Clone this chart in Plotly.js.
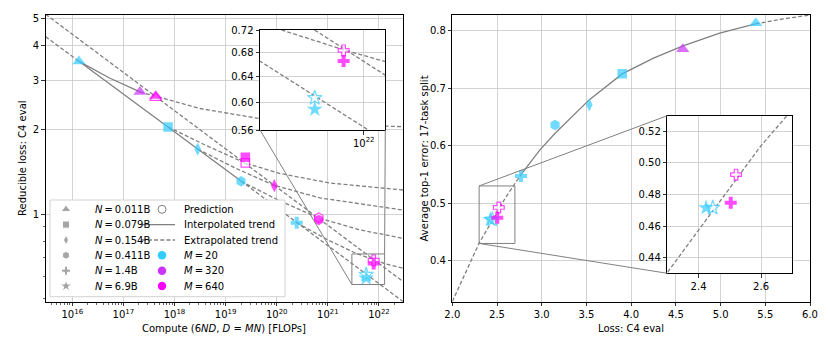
<!DOCTYPE html>
<html><head><meta charset="utf-8">
<script src="https://cdn.plot.ly/plotly-3.0.1.min.js"></script>
<style>html,body{margin:0;padding:0;background:#fff;}#chart{width:830px;height:346px;}</style>
</head><body><div id="chart"></div>
<script>
// ================= DATA =================
// ---- left panel: reducible loss vs compute ----
const nLabels = ['0.011B', '0.079B', '0.154B', '0.411B', '1.4B', '6.9B'];
const mLabels = ['20', '320', '640'];
const computeTickExp = [16, 17, 18, 19, 20, 21, 22];
const lossTicks = [1, 2, 3, 4, 5];
const lossMinorTicks = [0.5, 0.6, 0.7, 0.8, 0.9];
const insetLossTicks = [0.56, 0.60, 0.64, 0.68, 0.72];
const insetComputeTicks = [1e22];

// observed runs (filled markers)
const m20Compute = [1.35e16, 7.48e17, 2.84e18, 2.0e19, 2.46e20, 5.62e21];
const m20Loss    = [3.51, 2.046, 1.705, 1.309, 0.931, 0.590];
const m20N       = [0, 1, 2, 3, 4, 5];
const m320Compute = [2.11e17];
const m320Loss    = [2.73];
const m320N       = [0];
const m640Compute = [4.29e17, 2.43e19, 8.97e19, 6.64e20, 7.89e21];
const m640Loss    = [2.64, 1.594, 1.262, 0.952, 0.666];
const m640N       = [0, 1, 2, 3, 4];
// predictions (open markers)
const predCompute = [4.29e17, 2.43e19, 6.64e20, 7.89e21, 5.62e21];
const predLoss    = [2.60, 1.522, 0.970, 0.684, 0.607];
const predN       = [0, 1, 3, 4, 5];
const predM       = [2, 2, 2, 2, 0];

// trends
const m20TrendCompute  = [3.0e15, 1.35e16, 2.0e19, 2.95e22];
const m20TrendLoss     = [4.30, 3.51, 1.312, 0.487];
const m640TrendCompute = [3.0e15, 2.95e22];
const m640TrendLoss    = [5.17, 0.574];
const n011Compute = [1.35e16, 5.35e16, 2.11e17, 4.29e17, 3.16e18, 4.71e19, 7.03e20, 2.95e22];
const n011Loss    = [3.51, 3.06, 2.73, 2.63, 2.381, 2.190, 2.100, 2.050];
const n079Compute = [7.48e17, 4.14e18, 2.43e19, 1.16e20, 1.10e21, 2.95e22];
const n079Loss    = [2.046, 1.757, 1.52, 1.395, 1.290, 1.218];
const n154Compute = [2.84e18, 1.60e19, 8.97e19, 7.13e20, 2.95e22];
const n154Loss    = [1.705, 1.454, 1.265, 1.141, 1.033];
const n411Compute = [2.0e19, 1.16e20, 6.64e20, 4.27e21, 2.95e22];
const n411Loss    = [1.309, 1.113, 0.968, 0.877, 0.819];
const n14Compute  = [2.46e20, 1.0e21, 3.66e21, 7.89e21, 1.29e22, 2.95e22];
const n14Loss     = [0.931, 0.808, 0.722, 0.685, 0.665, 0.640];

// ---- right panel: top-1 error vs loss ----
const lossAxisTicks = [2.0, 2.5, 3.0, 3.5, 4.0, 4.5, 5.0, 5.5, 6.0];
const errAxisTicks  = [0.4, 0.5, 0.6, 0.7, 0.8];
const insetLossAxisTicks = [2.4, 2.6];
const insetErrTicks = [0.44, 0.46, 0.48, 0.50, 0.52];
const err20Loss = [5.394, 3.90, 3.532, 3.149, 2.768, 2.424];
const err20Val  = [0.813, 0.725, 0.671, 0.636, 0.5475, 0.4716];
const err20N    = [0, 1, 2, 3, 4, 5];
const err320Loss = [4.577];
const err320Val  = [0.768];
const err320N    = [0];
const err640Loss = [2.503];
const err640Val  = [0.4748];
const err640N    = [4];
const errPredLoss = [2.520, 2.4455];
const errPredVal  = [0.4926, 0.4716];
const errPredN    = [4, 5];
const errPredM    = [2, 0];
const fitLoss = [2.0, 2.15, 2.3, 2.45, 2.6, 2.77, 2.98, 3.15, 3.53, 3.90, 4.25, 4.58, 4.99, 5.39, 5.70, 6.0];
const fitErr  = [0.329, 0.381, 0.4305, 0.4705, 0.511, 0.550, 0.5927, 0.6217, 0.6797, 0.7249, 0.7522, 0.7736, 0.7957, 0.8118, 0.8205, 0.8273];

// ================= STYLE =================
const FONT = 'DejaVu Sans';
const GRAY = '#808080';
const DASH = '4px,2.2px';
const mColors = ['#33ccff', '#cc33ff', '#ff00ff'];
const nSymbols = ['triangle-up', 'square', 'diamond-tall', 'hexagon', 'cross', 'star'];
const nSizes = [11.5, 9.5, 9.5, 10.5, 10, 12];
const W = 830, H = 346;
const boxes = {
  L:  {x0: 45.7,  x1: 403,   y0: 15,    y1: 301.7},
  R:  {x0: 452.3, x1: 810,   y0: 15,    y1: 301.7},
  LI: {x0: 260,   x1: 385.3, y0: 30,    y1: 130},
  RI: {x0: 667.3, x1: 792.3, y0: 115.7, y1: 273.3},
  LG: {x0: 50,    x1: 285,   y0: 200,   y1: 296.7}
};
function dom(b) { return {x: [b.x0 / W, b.x1 / W], y: [1 - b.y1 / H, 1 - b.y0 / H]}; }
const dL = dom(boxes.L), dR = dom(boxes.R), dLI = dom(boxes.LI), dRI = dom(boxes.RI), dLG = dom(boxes.LG);
const leftXRange = [15.48, 22.47], leftYRange = [-0.3132, 0.7107];
const rightXRange = [2, 6], rightYRange = [0.3287, 0.8273];
const liXRange = [21.47, 22.11], liYRange = [Math.log10(0.56), Math.log10(0.72)];
const riXRange = [2.3, 2.7], riYRange = [0.43, 0.53];

// ================= TRACES =================
const traces = [];
function lineTrace(xs, ys, dash, xa, ya) {
  return {type: 'scatter', mode: 'lines', x: xs, y: ys, xaxis: xa, yaxis: ya,
    line: {color: GRAY, width: 1.3, dash: dash}, hoverinfo: 'skip', showlegend: false};
}
function addTrend(xs, ys, s0, s1, xa, ya) {
  if (s0 === null) { traces.push(lineTrace(xs, ys, DASH, xa, ya)); return; }
  if (s0 > 0) traces.push(lineTrace(xs.slice(0, s0 + 1), ys.slice(0, s0 + 1), DASH, xa, ya));
  traces.push(lineTrace(xs.slice(s0, s1 + 1), ys.slice(s0, s1 + 1), 'solid', xa, ya));
  if (s1 < xs.length - 1) traces.push(lineTrace(xs.slice(s1), ys.slice(s1), DASH, xa, ya));
}
function markTrace(xs, ys, nIdx, mIdx, open, xa, ya) {
  const cols = mIdx.map(m => mColors[m]);
  return {type: 'scatter', mode: 'markers', x: xs, y: ys, xaxis: xa, yaxis: ya, showlegend: false, hoverinfo: 'skip',
    marker: {symbol: nIdx.map(n => nSymbols[n]), size: nIdx.map(n => nSizes[n] - (open ? 1 : 0)),
      color: open ? 'white' : cols, line: {color: cols, width: open ? 1.2 : 0}}};
}
const fill = (arr, v) => arr.map(() => v);

[['x', 'y'], ['x3', 'y3']].forEach(([xa, ya]) => {
  addTrend(m20TrendCompute, m20TrendLoss, 1, 2, xa, ya);
  addTrend(m640TrendCompute, m640TrendLoss, null, null, xa, ya);
  addTrend(n011Compute, n011Loss, 0, 2, xa, ya);
  addTrend(n079Compute, n079Loss, null, null, xa, ya);
  addTrend(n154Compute, n154Loss, null, null, xa, ya);
  addTrend(n411Compute, n411Loss, null, null, xa, ya);
  addTrend(n14Compute, n14Loss, null, null, xa, ya);
  traces.push(markTrace(predCompute, predLoss, predN, predM, true, xa, ya));
  traces.push(markTrace(m20Compute, m20Loss, m20N, fill(m20N, 0), false, xa, ya));
  traces.push(markTrace(m320Compute, m320Loss, m320N, fill(m320N, 1), false, xa, ya));
  traces.push(markTrace(m640Compute, m640Loss, m640N, fill(m640N, 2), false, xa, ya));
});
[['x2', 'y2'], ['x4', 'y4']].forEach(([xa, ya]) => {
  addTrend(fitLoss, fitErr, 5, 13, xa, ya);
  traces.push(markTrace(errPredLoss, errPredVal, errPredN, errPredM, true, xa, ya));
  traces.push(markTrace(err20Loss, err20Val, err20N, fill(err20N, 0), false, xa, ya));
  traces.push(markTrace(err320Loss, err320Val, err320N, fill(err320N, 1), false, xa, ya));
  traces.push(markTrace(err640Loss, err640Val, err640N, fill(err640N, 2), false, xa, ya));
});

// ---- hand-built two-column legend (its own small axes) ----
const legRows = [209.3, 224.6, 240, 255.3, 270.7, 286];
const legCol1 = 66, legText1 = 93, legCol2 = 162, legText2 = 181.7, legLine = [141.7, 175];
traces.push({type: 'scatter', mode: 'markers', xaxis: 'x5', yaxis: 'y5', hoverinfo: 'skip', showlegend: false,
  x: nLabels.map(() => legCol1), y: legRows,
  marker: {symbol: nSymbols, size: nSizes.map(s => s * 0.75), color: GRAY}});
traces.push({type: 'scatter', mode: 'markers', xaxis: 'x5', yaxis: 'y5', hoverinfo: 'skip', showlegend: false,
  x: [legCol2], y: [legRows[0]], marker: {symbol: 'circle', size: 8, color: 'white', line: {color: GRAY, width: 1}}});
traces.push(lineTrace(legLine, [legRows[1], legRows[1]], 'solid', 'x5', 'y5'));
traces.push(lineTrace(legLine, [legRows[2], legRows[2]], DASH, 'x5', 'y5'));
traces.push({type: 'scatter', mode: 'markers', xaxis: 'x5', yaxis: 'y5', hoverinfo: 'skip', showlegend: false,
  x: mLabels.map(() => legCol2), y: legRows.slice(3), marker: {symbol: 'circle', size: 8.5, color: mColors}});

// ================= LAYOUT =================
const tickFont = {family: FONT, size: 10, color: '#000'};
const axBase = {showline: true, mirror: true, linecolor: '#000', linewidth: 1, ticks: 'outside', ticklen: 3.5,
  tickwidth: 0.8, tickcolor: '#000', showgrid: true, gridcolor: '#c8c8c8', gridwidth: 0.8, zeroline: false,
  tickfont: tickFont, fixedrange: true, tickmode: 'array'};
const xMinor = [];
for (let d = 15; d <= 22; d++) for (let k = 2; k <= 9; k++) xMinor.push(k * Math.pow(10, d));

function toPaper(domain, range, v) { return domain[0] + (v - range[0]) / (range[1] - range[0]) * (domain[1] - domain[0]); }

const lRect = {x0: toPaper(dL.x, leftXRange, liXRange[0]), x1: toPaper(dL.x, leftXRange, liXRange[1]),
  y0: toPaper(dL.y, leftYRange, liYRange[0]), y1: toPaper(dL.y, leftYRange, liYRange[1])};
const rRect = {x0: toPaper(dR.x, rightXRange, riXRange[0]), x1: toPaper(dR.x, rightXRange, riXRange[1]),
  y0: toPaper(dR.y, rightYRange, riYRange[0]), y1: toPaper(dR.y, rightYRange, riYRange[1])};
const thin = {color: GRAY, width: 1};
const shapes = [
  {type: 'rect', xref: 'paper', yref: 'paper', layer: 'above', ...lRect, line: thin},
  {type: 'line', xref: 'paper', yref: 'paper', layer: 'above', x0: dLI.x[0], y0: dLI.y[0], x1: lRect.x0, y1: lRect.y0, line: thin},
  {type: 'line', xref: 'paper', yref: 'paper', layer: 'above', x0: dLI.x[1], y0: dLI.y[0], x1: lRect.x1, y1: lRect.y1, line: thin},
  {type: 'rect', xref: 'paper', yref: 'paper', layer: 'above', ...rRect, line: thin},
  {type: 'line', xref: 'paper', yref: 'paper', layer: 'above', x0: rRect.x0, y0: rRect.y1, x1: dRI.x[0], y1: dRI.y[1], line: thin},
  {type: 'line', xref: 'paper', yref: 'paper', layer: 'above', x0: rRect.x0, y0: rRect.y0, x1: dRI.x[0], y1: dRI.y[0], line: thin},
  {type: 'rect', xref: 'paper', yref: 'paper', layer: 'above', x0: dLG.x[0], x1: dLG.x[1], y0: dLG.y[0], y1: dLG.y[1],
    line: {color: '#d2d2d2', width: 1}}
];

const annFont = {family: FONT, size: 10, color: '#000'};
const ctr = {xanchor: 'center', yanchor: 'middle', showarrow: false, font: annFont, xref: 'paper', yref: 'paper'};
const annotations = [
  {...ctr, text: 'Reducible loss: C4 eval', x: 22.5 / W, y: 1 - 158.4 / H, textangle: -90},
  {...ctr, text: 'Compute (6<i>ND</i>, <i>D</i> = <i>MN</i>) [FLOPs]', x: 224.4 / W, y: 1 - 328 / H},
  {...ctr, text: 'Loss: C4 eval', x: 631 / W, y: 1 - 328 / H},
  {...ctr, text: 'Average top-1 error: 17-task split', x: 424 / W, y: 1 - 158.4 / H, textangle: -90}
];
const legText2Labels = ['Prediction', 'Interpolated trend', 'Extrapolated trend'].concat(mLabels.map(m => '<i>M</i>\u2009=\u2009' + m));
nLabels.forEach((n, i) => annotations.push({text: '<i>N</i>\u2009=\u2009' + n, xref: 'x5', yref: 'y5', x: legText1, y: legRows[i],
  xanchor: 'left', yanchor: 'middle', showarrow: false, font: annFont}));
legText2Labels.forEach((t, i) => annotations.push({text: t, xref: 'x5', yref: 'y5', x: legText2, y: legRows[i],
  xanchor: 'left', yanchor: 'middle', showarrow: false, font: annFont}));

const layout = {
  width: W, height: H, margin: {l: 0, r: 0, t: 0, b: 0}, paper_bgcolor: 'white', plot_bgcolor: 'white',
  showlegend: false, hovermode: false, font: {family: FONT, size: 10, color: '#000'},
  xaxis: {...axBase, domain: dL.x, anchor: 'y', type: 'log', range: leftXRange,
    tickvals: computeTickExp.map(e => Math.pow(10, e)), ticktext: computeTickExp.map(e => '10<sup>' + e + '</sup>'),
    minor: {tickmode: 'array', tickvals: xMinor, ticks: 'outside', ticklen: 2, tickwidth: 0.6, tickcolor: '#000', showgrid: false}},
  yaxis: {...axBase, domain: dL.y, anchor: 'x', type: 'log', range: leftYRange,
    tickvals: lossTicks, ticktext: lossTicks.map(String),
    minor: {tickmode: 'array', tickvals: lossMinorTicks, ticks: 'outside', ticklen: 2, tickwidth: 0.6, tickcolor: '#000', showgrid: false}},
  xaxis2: {...axBase, domain: dR.x, anchor: 'y2', range: rightXRange, tickvals: lossAxisTicks, ticktext: lossAxisTicks.map(v => v.toFixed(1))},
  yaxis2: {...axBase, domain: dR.y, anchor: 'x2', range: rightYRange, tickvals: errAxisTicks, ticktext: errAxisTicks.map(v => v.toFixed(1))},
  xaxis3: {...axBase, domain: dLI.x, anchor: 'y3', type: 'log', range: liXRange,
    tickvals: insetComputeTicks, ticktext: insetComputeTicks.map(v => '10<sup>' + Math.round(Math.log10(v)) + '</sup>')},
  yaxis3: {...axBase, domain: dLI.y, anchor: 'x3', type: 'log', range: liYRange, tickvals: insetLossTicks, ticktext: insetLossTicks.map(v => v.toFixed(2))},
  xaxis4: {...axBase, domain: dRI.x, anchor: 'y4', range: riXRange, tickvals: insetLossAxisTicks, ticktext: insetLossAxisTicks.map(v => v.toFixed(1))},
  yaxis4: {...axBase, domain: dRI.y, anchor: 'x4', range: riYRange, tickvals: insetErrTicks, ticktext: insetErrTicks.map(v => v.toFixed(2))},
  xaxis5: {domain: dLG.x, anchor: 'y5', range: [boxes.LG.x0, boxes.LG.x1], visible: false, fixedrange: true},
  yaxis5: {domain: dLG.y, anchor: 'x5', range: [boxes.LG.y1, boxes.LG.y0], visible: false, fixedrange: true},
  shapes: shapes, annotations: annotations
};
Plotly.newPlot('chart', traces, layout, {staticPlot: true, displayModeBar: false});
</script></body></html>
